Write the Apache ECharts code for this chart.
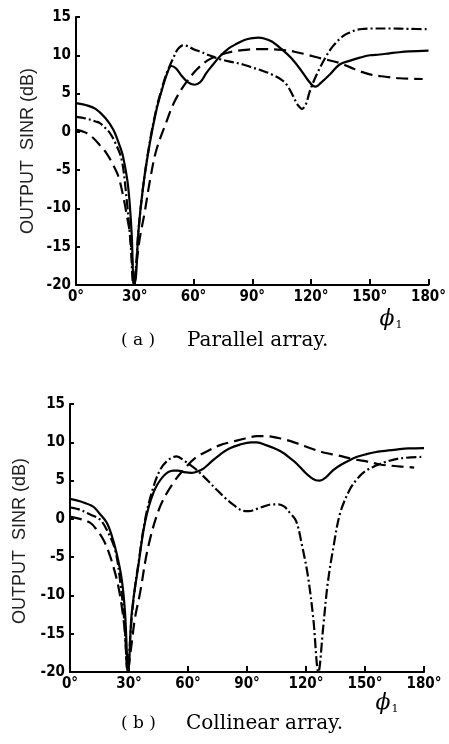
<!DOCTYPE html>
<html>
<head>
<meta charset="utf-8">
<script src="https://cdn.jsdelivr.net/npm/echarts@6/dist/echarts.min.js"></script>
<style>
html,body{margin:0;padding:0;background:#fff;}
#c{width:449px;height:744px;}
</style>
</head>
<body>
<div id="c"></div>
<script>
// ---- tick values ----
var xTicks = [0, 30, 60, 90, 120, 150, 180];
var yTicks = [-20, -15, -10, -5, 0, 5, 10, 15];

// ---- (a) Parallel array ----
var aSolidX = [0,5,10,15,19,22,24,26.6,28.4,29.6,30.6,31.8,34.3,37.7,41.1,44,46.5,48.7,51,54,57,60.5,63.5,66.6,70,73.4,78,82,86,90.4,93,96,100,105,110,115,118,121,122.5,125,130,134.6,140,145,150,155,160,165,170,180];
var aSolidY = [3.75,3.5,3.0,1.8,0.3,-1.6,-3.2,-7.1,-13.2,-20,-19,-13.2,-7.1,-1.45,2.9,5.6,7.6,8.6,8.3,7.3,6.5,6.15,6.5,7.7,8.8,9.85,10.9,11.5,12.0,12.25,12.3,12.2,11.8,10.8,9.6,8.0,6.9,6.0,5.9,6.4,7.6,8.8,9.3,9.7,10.0,10.1,10.25,10.4,10.5,10.6];

var aDashDotX = [0,5,10,12.2,15,17.3,20,23.3,25.9,28,29.3,30.5,31.8,34.3,37.7,41.1,44,46.2,49.6,52,54.7,57,60,63.2,68,73.4,80,85.3,90,95,100,105,108,111,113,115.5,117.5,119,121,124.4,127.8,131.2,136.3,140,143,147,150,160,170,180];
var aDashDotY = [1.95,1.75,1.35,1.15,0.5,-0.15,-1.4,-3.6,-8.9,-15,-20,-18,-13.2,-7.1,-1.3,3.1,5.8,7.6,9.6,10.8,11.3,11.2,10.8,10.5,10.0,9.5,9.1,8.8,8.4,8.0,7.5,6.8,6.0,4.6,3.6,3.0,3.7,5.0,6.4,8.3,9.9,11.2,12.5,13.0,13.3,13.45,13.5,13.5,13.45,13.4];

var aDashX = [0,5,8.8,12,15.6,18.5,21.6,24.1,26,27.5,28.7,29.6,31,32.5,35,38,41,46,50,55,61.5,67,73,80,88,95.5,105,111,117.6,125,134.6,142,150,158,165.2,177];
var aDashY = [0.3,-0.1,-0.8,-1.7,-2.8,-4.1,-5.8,-8.4,-11,-13.2,-17,-20,-17,-14,-10.6,-6.0,-2.4,1.2,3.8,6.0,8.1,9.3,10.0,10.5,10.75,10.8,10.7,10.5,10.1,9.6,9.0,8.2,7.5,7.2,7.0,6.9];

// ---- (b) Collinear array ----
var bSolidX = [0,5,11.8,15,18.7,21,23.7,26.3,28,29.6,31.4,34.7,38.1,42.4,47.4,52.5,55,58,62,65,68,72,76.3,81,86.4,92,95,100,105,108.5,112,115.3,119,122,125,127,130,134,138,142.4,146,150.8,155,159,166,172,180];
var bSolidY = [2.6,2.3,1.6,0.7,-0.5,-2.0,-4.5,-7.9,-12.3,-20,-12.3,-6.2,-0.5,3.4,5.55,6.3,6.3,6.1,6.0,6.2,6.6,7.5,8.4,9.2,9.7,10.0,10.0,9.6,9.1,8.6,7.9,7.2,6.2,5.5,5.05,5.0,5.4,6.4,7.1,7.7,8.1,8.45,8.7,8.85,9.05,9.2,9.25];

var bDashDotX = [0,5,10,15.3,19,22.9,25.4,27.5,29.4,31,33,34.7,38.1,42,45.8,50,54.2,58,64.4,70,74.6,79,83,88,91,95,98.3,103,106,109,111.9,115,118,121,123.7,126.3,128.8,131,134,137.3,142,146,150,155,160,168,180];
var bDashDotY = [1.5,1.2,0.6,-0.1,-1.6,-4.0,-7.9,-13,-20,-14,-9,-6.0,-0.2,3.8,6.4,7.7,8.15,7.6,6.4,5.0,3.8,2.7,1.85,1.05,1.0,1.3,1.6,1.9,1.9,1.6,0.76,-0.3,-3.5,-7.5,-13,-20,-14,-8.5,-3.6,0.7,3.7,5.2,6.2,6.9,7.4,7.9,8.1];

var bDashX = [0,5,10.2,13.5,16.9,19.5,22,24.3,26.3,28,29.3,31,33,35.6,39.8,45.8,52.5,59.3,64,69.5,76,83,89,95,100,108.5,115,123.7,130,136,144,150.8,157.6,165,170,175];
var bDashY = [0.3,0.0,-0.5,-1.4,-2.7,-4.2,-6.2,-8.5,-11.4,-15,-20,-17,-13,-9.7,-3.6,1.6,4.7,6.85,8.0,8.8,9.6,10.1,10.5,10.8,10.8,10.4,9.9,9.1,8.6,8.3,7.8,7.5,7.1,6.9,6.8,6.7];

// ---- texts ----
var yName = 'OUTPUT  SINR (dB)';
var capA = ['( a )', 'Parallel array.'];
var capB = ['( b )', 'Collinear array.'];

function zip(xs, ys){ return xs.map(function(x,i){ return [x, ys[i]]; }); }

var tickFont = "'DejaVu Sans Condensed','Liberation Sans Narrow','Arial Narrow',sans-serif";
var serif = "'DejaVu Serif','Liberation Serif',serif";

function xAxisDef(idx){
  return {
    type:'value', gridIndex: idx, min: 0, max: 180, interval: 30,
    axisLine:{show:true, onZero:false, lineStyle:{color:'#000', width:2}},
    axisTick:{show:true, inside:true, length:6, lineStyle:{color:'#000', width:2}},
    splitLine:{show:false},
    axisLabel:{
      margin:5, fontSize:15, fontWeight:'bold', fontFamily:tickFont, color:'#000',
      formatter:function(v){ return v + '°'; }
    }
  };
}
function yAxisDef(idx){
  return {
    type:'value', gridIndex: idx, min:-20, max:15, interval:5,
    axisLine:{show:true, onZero:false, lineStyle:{color:'#000', width:2}},
    axisTick:{show:true, inside:true, length:4, lineStyle:{color:'#000', width:2}},
    splitLine:{show:false},
    axisLabel:{margin:5, fontSize:15, fontWeight:'bold', fontFamily:tickFont, color:'#000'}
  };
}

function lineSeries(idx, xs, ys, type){
  return {
    type:'line', xAxisIndex: idx, yAxisIndex: idx,
    data: zip(xs, ys), showSymbol:false, smooth:0.35, clip:true,
    lineStyle:{color:'#000', width: 2.2, type: type, cap:'butt'},
    silent:true, animation:false
  };
}

var chart = echarts.init(document.getElementById('c'), null, {renderer:'canvas'});
chart.setOption({
  backgroundColor:'#fff',
  animation:false,
  grid:[
    {left:76, top:17, width:353, height:268},
    {left:70, top:404, width:354, height:268}
  ],
  xAxis:[xAxisDef(0), xAxisDef(1)],
  yAxis:[yAxisDef(0), yAxisDef(1)],
  series:[
    lineSeries(0, aSolidX, aSolidY, 'solid'),
    lineSeries(0, aDashDotX, aDashDotY, [10,3,2,3]),
    lineSeries(0, aDashX, aDashY, [12,6]),
    lineSeries(1, bSolidX, bSolidY, 'solid'),
    lineSeries(1, bDashDotX, bDashDotY, [10,3,2,3]),
    lineSeries(1, bDashX, bDashY, [12,6])
  ],
  graphic:[
    {type:'text', x:28, y:151, rotation:Math.PI/2,
      style:{text:yName, font:"18px 'Liberation Sans', Arial, sans-serif", fill:'#222', align:'center', verticalAlign:'middle'}},
    {type:'text', x:20, y:541, rotation:Math.PI/2,
      style:{text:yName, font:"18px 'Liberation Sans', Arial, sans-serif", fill:'#222', align:'center', verticalAlign:'middle'}},
    {type:'text', x:387, y:319,
      style:{text:'ϕ', font:"italic 22px "+serif, fill:'#000', align:'center', verticalAlign:'middle'}},
    {type:'text', x:399, y:325,
      style:{text:'1', font:"11px "+serif, fill:'#000', align:'center', verticalAlign:'middle'}},
    {type:'text', x:383, y:703,
      style:{text:'ϕ', font:"italic 22px "+serif, fill:'#000', align:'center', verticalAlign:'middle'}},
    {type:'text', x:395, y:709,
      style:{text:'1', font:"11px "+serif, fill:'#000', align:'center', verticalAlign:'middle'}},
    {type:'text', x:121, y:341,
      style:{text:capA[0], font:"17px "+serif, fill:'#000', align:'left', verticalAlign:'middle'}},
    {type:'text', x:187, y:341,
      style:{text:capA[1], font:"20px "+serif, fill:'#000', align:'left', verticalAlign:'middle'}},
    {type:'text', x:121, y:724,
      style:{text:capB[0], font:"17px "+serif, fill:'#000', align:'left', verticalAlign:'middle'}},
    {type:'text', x:186, y:724,
      style:{text:capB[1], font:"20px "+serif, fill:'#000', align:'left', verticalAlign:'middle'}}
  ]
});
</script>
</body>
</html>
